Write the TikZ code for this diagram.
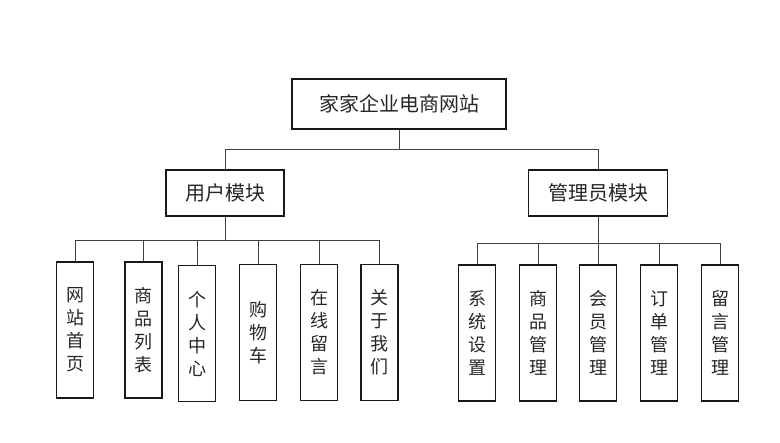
\documentclass[tikz,border=0pt]{standalone}
\usepackage{fontspec}
\newfontfamily\cjk{Noto Sans CJK SC}
\begin{document}
\begin{tikzpicture}[
        x=1pt, y=-1pt,
        every node/.style={font=\cjk, text=black!85},
        rootbox/.style={rectangle, draw=black!90, line width=1.8pt, minimum width=214pt, minimum height=50pt, font=\cjk\fontsize{20}{24}\selectfont},
        modbox/.style={rectangle, draw=black!90, line width=1.8pt, minimum height=46pt, font=\cjk\fontsize{20}{24}\selectfont},
        leafbox/.style={rectangle, draw=black!90, line width=1.8pt, minimum width=37pt, minimum height=136pt, inner sep=0pt, align=center, font=\cjk\fontsize{18}{23}\selectfont},
        link/.style={draw=black!75, line width=0.9pt}
        ]
        \useasboundingbox (0,0) rectangle (780,443);

        \node[rootbox] (root) at (399, 104) {家家企业电商网站};
        \node[modbox, minimum width=118pt] (user) at (225, 193) {用户模块};
        \node[modbox, minimum width=139pt] (admin) at (598, 193) {管理员模块};

        % user module
        \node[leafbox] (home) at (75, 330) {网\\站\\首\\页};
        \node[leafbox] (goodslist) at (143.5, 330) {商\\品\\列\\表};
        \node[leafbox] (center) at (197, 333.5) {个\\人\\中\\心};
        \node[leafbox] (cart) at (258, 332.5) {购\\物\\车};
        \node[leafbox] (message) at (319, 332.5) {在\\线\\留\\言};
        \node[leafbox] (about) at (379.5, 332.5) {关\\于\\我\\们};

        % admin module
        \node[leafbox] (settings) at (477, 333) {系\\统\\设\\置};
        \node[leafbox] (goodsmgr) at (538, 333) {商\\品\\管\\理};
        \node[leafbox] (membermgr) at (598, 333) {会\\员\\管\\理};
        \node[leafbox] (ordermgr) at (659, 333) {订\\单\\管\\理};
        \node[leafbox] (msgmgr) at (720, 333) {留\\言\\管\\理};

        \coordinate (topbus) at (399, 149);
        \coordinate (userbus) at (225, 240);
        \coordinate (adminbus) at (598, 243);

        \draw[link] (root.south) -- (topbus) -| (user.north);
        \draw[link] (topbus) -| (admin.north);

        \draw[link] (user.south) -- (userbus);
        \foreach \leaf in {home, goodslist, center, cart, message, about}
            \draw[link] (userbus) -| (\leaf.north);

        \draw[link] (admin.south) -- (adminbus);
        \foreach \leaf in {settings, goodsmgr, membermgr, ordermgr, msgmgr}
            \draw[link] (adminbus) -| (\leaf.north);

    \end{tikzpicture}
\end{document}
